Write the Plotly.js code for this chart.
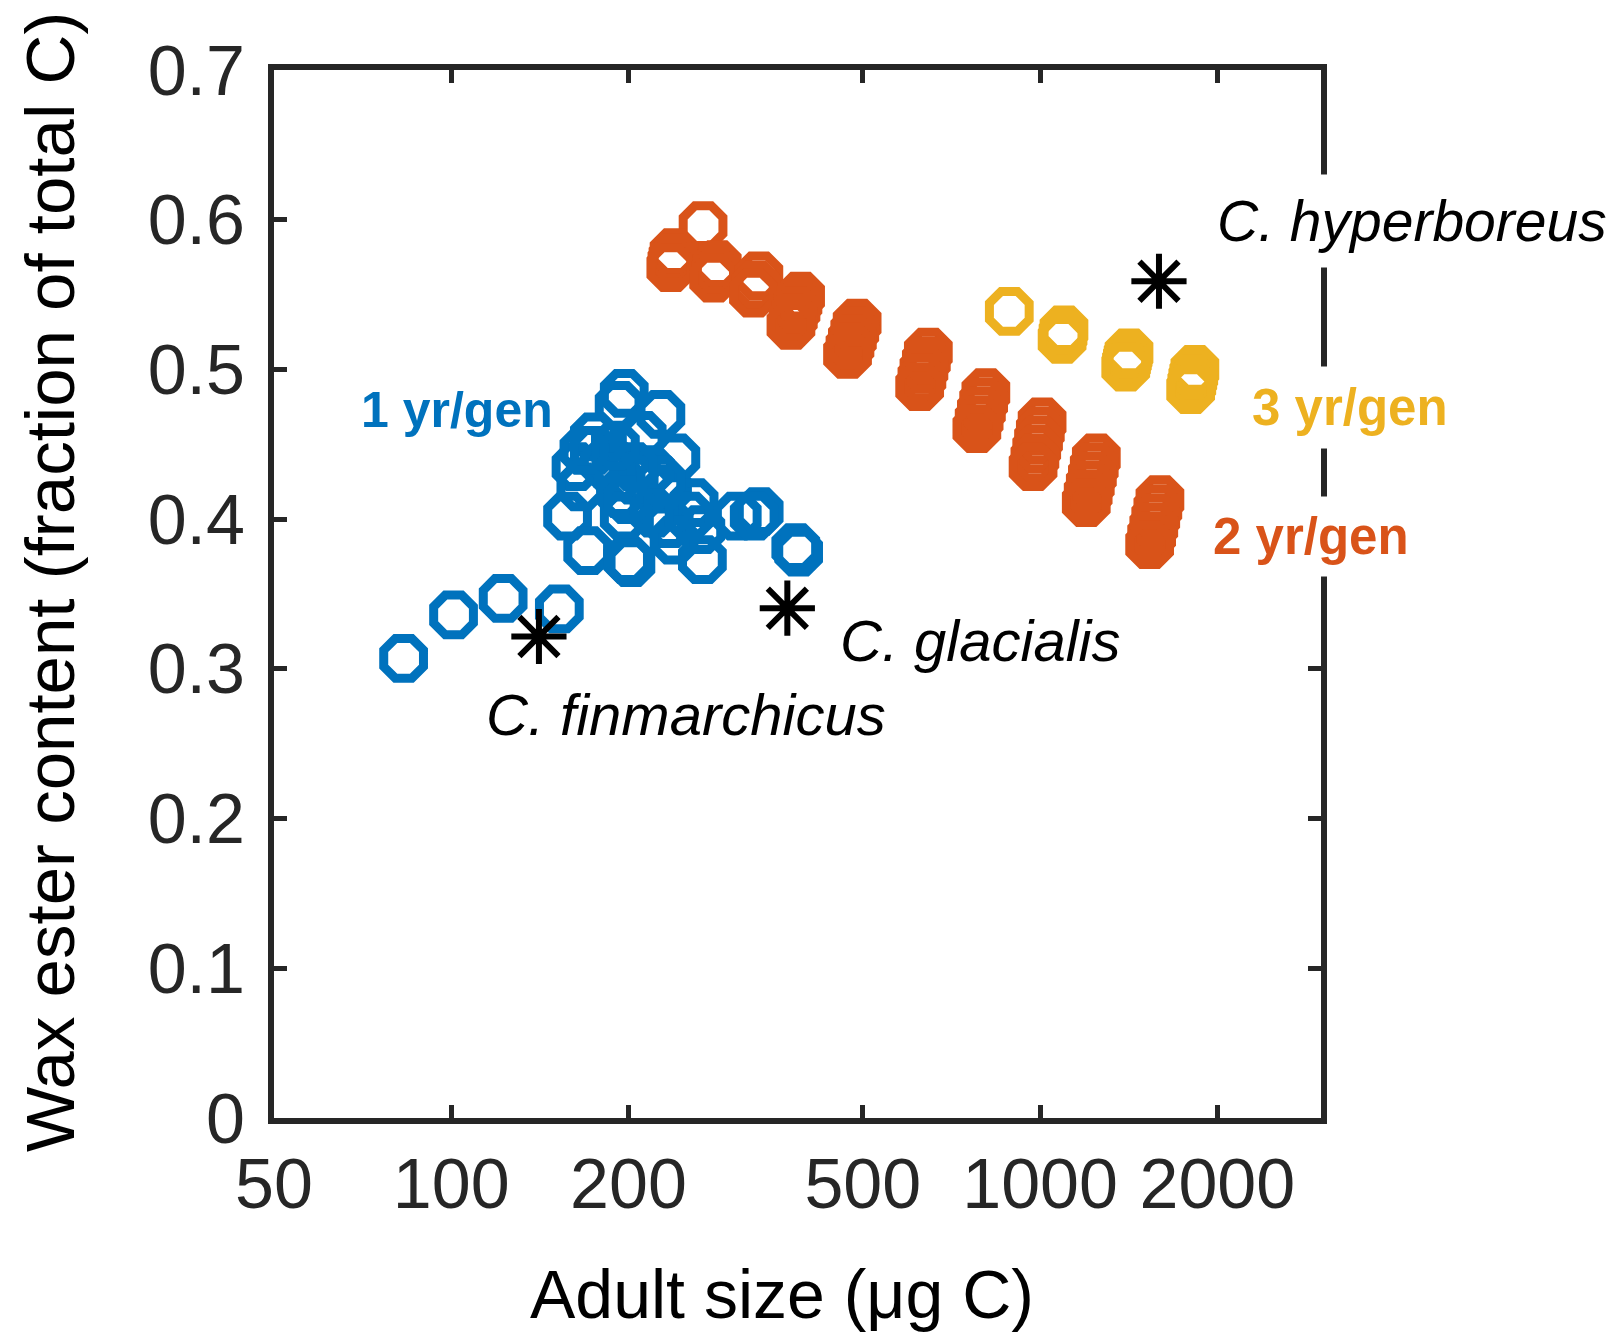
<!DOCTYPE html>
<html>
<head>
<meta charset="utf-8">
<script src="https://cdn.plot.ly/plotly-3.0.1.min.js"></script>
<style>
html,body{margin:0;padding:0;background:#fff;}
#chart{width:1617px;height:1338px;}
</style>
</head>
<body>
<div id="chart"></div>
<script>
// ---- data ----
// 1 yr/gen (blue)
const blueX = [83.0,100.9,122.5,152.6,196.7,192.8,227,175,211,240.7,162.9,181.9,204.5,194,233,157.6,170.5,199.3,196.7,234.5,258.5,265.4,267,306,333.4,384.7,175,191.7,218,221,239,253.5,327,389,201.9,166,199.5,227,204,190,168];
const blueY = [0.307,0.336,0.347,0.340,0.484,0.476,0.470,0.455,0.456,0.441,0.435,0.437,0.426,0.417,0.420,0.402,0.379,0.373,0.402,0.397,0.411,0.393,0.373,0.402,0.405,0.381,0.446,0.428,0.433,0.404,0.386,0.402,0.402,0.378,0.371,0.4215,0.413,0.426,0.435,0.449,0.446];
// 2 yr/gen (orange)
const orangeX = [267.7,
  239,238,237,236,
  283,281,279,
  333,329,326,
  392,388,385,381,377.5,
  489,484.5,480,475.5,471,
  646,641,635,630,624.5,
  809,802,795,788,781,
  1008,1001,994,987,980,973,
  1246,1236,1227,1217,1207,1198,
  1598,1585,1572,1560,1547,1535];
const orangeY = [0.596,
  0.578,0.5745,0.5715,0.568,
  0.570,0.5655,0.561,
  0.5625,0.5565,0.551,
  0.549,0.5441,0.5393,0.5344,0.5295,
  0.531,0.5258,0.5205,0.5153,0.510,
  0.5115,0.5058,0.500,0.4943,0.4885,
  0.4845,0.4785,0.4725,0.4665,0.4605,
  0.465,0.459,0.453,0.447,0.441,0.435,
  0.441,0.435,0.429,0.423,0.417,0.411,
  0.413,0.407,0.401,0.395,0.389,0.383];
// 3 yr/gen (yellow)
const yellowX = [886.6, 1098,1094,1090, 1416,1411,1407,1402,1398, 1832,1824,1817,1810,1802];
const yellowY = [0.5388, 0.5265,0.5232,0.520, 0.511,0.5088,0.5065,0.504,0.5015, 0.500,0.4965,0.4935,0.490,0.4865];
// observed species (asterisks)
const speciesX = [140.9, 372.2, 1592];
const speciesY = [0.3216, 0.3405, 0.5589];

const xTickVals = [50,100,200,500,1000,2000];
const xTickText = ['50','100','200','500','1000','2000'];
const xLabel = 'Adult size (\u03bcg C)';
const yLabel = 'Wax ester content (fraction of total C)';

// ---- styling ----
const W = 1617, H = 1338;
const L = 274, R = 1321, T = 70, B = 1118;
const pw = R - L, ph = B - T;
const px = v => (v - L) / pw;
const py = v => (B - v) / ph;

const ringSize = 43, ringLine = 9;
const blue = '#0072BD', orange = '#D95319', yellow = '#EDB120';
const axisCol = '#262626';
const font = '"Liberation Sans", Arial, Helvetica, sans-serif';

function ring(x, y, col) {
  return {x: x, y: y, type: 'scatter', mode: 'markers', cliponaxis: false,
    marker: {symbol: 'octagon-open', size: ringSize, color: col, line: {color: col, width: ringLine}},
    hoverinfo: 'skip', showlegend: false};
}

const data = [
  ring(blueX, blueY, blue),
  ring(orangeX, orangeY, orange),
  ring(yellowX, yellowY, yellow),
  {x: speciesX, y: speciesY, type: 'scatter', mode: 'markers', cliponaxis: false,
   marker: {symbol: 'asterisk-open', size: 46, color: '#000', line: {color: '#000', width: 6}},
   hoverinfo: 'skip', showlegend: false}
];

function label(text, cx, cy, f, opts) {
  return Object.assign({text: text, xref: 'paper', yref: 'paper', x: px(cx), y: py(cy),
    xanchor: 'center', yanchor: 'middle', showarrow: false, font: f}, opts || {});
}

const annotations = [
  label('<i>C. hyperboreus</i>', 1412, 221, {family: font, size: 57, color: '#000'}, {bgcolor: '#fff', borderpad: 14}),
  label('<b>3 yr/gen</b>', 1350, 407, {family: font, size: 51, color: yellow}, {bgcolor: '#fff', borderpad: 12}),
  label('<b>2 yr/gen</b>', 1311, 536, {family: font, size: 51, color: orange}, {bgcolor: '#fff', borderpad: 11}),
  label('<b>1 yr/gen</b>', 457, 410, {family: font, size: 50, color: blue}),
  label('<i>C. glacialis</i>', 980, 640, {family: font, size: 58, color: '#000'}),
  label('<i>C. finmarchicus</i>', 686, 714, {family: font, size: 58, color: '#000'}),
  label(xLabel, 782, 1294, {family: font, size: 68, color: '#000'}),
  label(yLabel, 50, 582, {family: font, size: 69, color: '#000'}, {textangle: -90})
];

const layout = {
  width: W, height: H,
  margin: {l: L, r: W - R, t: T, b: H - B, pad: 0},
  paper_bgcolor: '#fff', plot_bgcolor: '#fff',
  showlegend: false,
  xaxis: {type: 'log', range: [Math.log10(50), Math.log10(3000)],
    tickmode: 'array', tickvals: xTickVals, ticktext: xTickText,
    showline: true, mirror: 'ticks', linecolor: axisCol, linewidth: 6,
    ticks: 'inside', ticklen: 13, tickwidth: 5, tickcolor: axisCol,
    showgrid: false, zeroline: false, ticklabelstandoff: 0,
    tickfont: {family: font, size: 70, color: axisCol}},
  yaxis: {range: [0, 0.7], tickmode: 'linear', tick0: 0, dtick: 0.1,
    showline: true, mirror: 'ticks', linecolor: axisCol, linewidth: 6,
    ticks: 'inside', ticklen: 13, tickwidth: 5, tickcolor: axisCol,
    showgrid: false, zeroline: false, ticklabelstandoff: 9,
    tickfont: {family: font, size: 70, color: axisCol}},
  annotations: annotations
};

Plotly.newPlot('chart', data, layout, {displayModeBar: false, staticPlot: true});
</script>
</body>
</html>
